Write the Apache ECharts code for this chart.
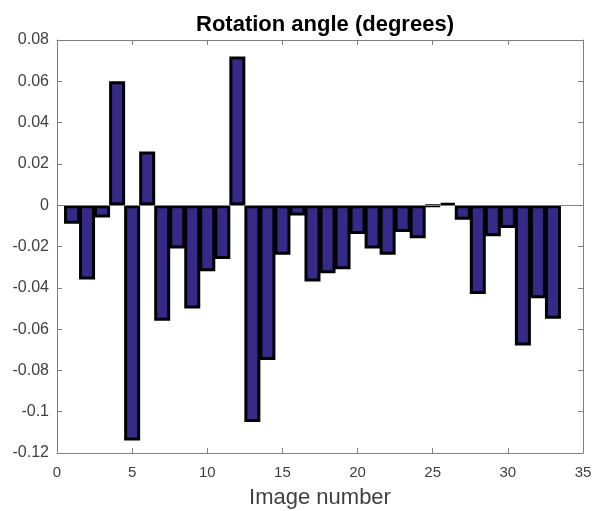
<!DOCTYPE html>
<html>
<head>
<meta charset="utf-8">
<script src="https://cdn.jsdelivr.net/npm/echarts@6/dist/echarts.min.js"></script>
<style>
html,body{margin:0;padding:0;background:#fff;}
#chart{width:592px;height:511px;}
</style>
</head>
<body>
<div id="chart"></div>
<script>
const imageNumbers = [1,2,3,4,5,6,7,8,9,10,11,12,13,14,15,16,17,18,19,20,21,22,23,24,25,26,27,28,29,30,31,32,33];
const rotationAngles = [-0.009,-0.036,-0.006,0.060,-0.114,0.026,-0.056,-0.021,-0.050,-0.032,-0.026,0.072,-0.105,-0.075,-0.024,-0.005,-0.037,-0.033,-0.031,-0.014,-0.021,-0.024,-0.013,-0.016,-0.0005,0.0008,-0.007,-0.043,-0.015,-0.011,-0.068,-0.045,-0.055];
const xTicks = [0,5,10,15,20,25,30,35];
const yTicks = [-0.12,-0.1,-0.08,-0.06,-0.04,-0.02,0,0.02,0.04,0.06,0.08];

const chart = echarts.init(document.getElementById('chart'));
const font = '"Liberation Sans", Arial, sans-serif';
const axisColor = '#808080';
const labelColor = '#404040';
const xMin = xTicks[0], xMax = xTicks[xTicks.length-1];
const yMin = yTicks[0], yMax = yTicks[yTicks.length-1];

chart.setOption({
  animation: false,
  backgroundColor: '#fff',
  title: {
    text: 'Rotation angle (degrees)',
    left: 320, textAlign: 'center', top: 9,
    textStyle: {fontFamily: font, fontSize: 22, fontWeight: 'bold', color: '#000'}
  },
  grid: {left: 57, right: 9, top: 40, bottom: 58, containLabel: false, outerBoundsMode: 'none'},
  xAxis: [{
    type: 'value', min: xMin, max: xMax, interval: 5,
    name: 'Image number', nameLocation: 'middle', nameGap: 34,
    nameTextStyle: {fontFamily: font, fontSize: 22, color: labelColor},
    axisLine: {show: true, onZero: false, lineStyle: {color: axisColor, width: 1}},
    axisTick: {show: true, inside: true, length: 5, lineStyle: {color: axisColor}},
    axisLabel: {fontFamily: font, fontSize: 15, color: labelColor, margin: 12},
    splitLine: {show: false}
  }, {
    type: 'value', position: 'top', min: xMin, max: xMax, interval: 5,
    axisLine: {show: true, onZero: false, lineStyle: {color: axisColor, width: 1}},
    axisTick: {show: true, inside: true, length: 5, lineStyle: {color: axisColor}},
    axisLabel: {show: false}, splitLine: {show: false}
  }],
  yAxis: [{
    type: 'value', min: yMin, max: yMax, interval: 0.02,
    axisLine: {show: true, onZero: false, lineStyle: {color: axisColor, width: 1}},
    axisTick: {show: true, inside: true, length: 5, lineStyle: {color: axisColor}},
    axisLabel: {fontFamily: font, fontSize: 16, color: labelColor, margin: 8,
      formatter: v => String(parseFloat(v.toFixed(2)))},
    splitLine: {show: false}
  }, {
    type: 'value', position: 'right', min: yMin, max: yMax, interval: 0.02,
    axisLine: {show: true, onZero: false, lineStyle: {color: axisColor, width: 1}},
    axisTick: {show: true, inside: true, length: 5, lineStyle: {color: axisColor}},
    axisLabel: {show: false}, splitLine: {show: false}
  }],
  series: [{
    type: 'bar',
    xAxisIndex: 0, yAxisIndex: 0,
    data: imageNumbers.map((n, i) => [n, rotationAngles[i]]),
    barWidth: 16,
    itemStyle: {color: '#352A87', borderColor: '#000', borderWidth: 3},
    markLine: {
      silent: true, symbol: 'none', label: {show: false},
      lineStyle: {color: '#808080', type: 'solid', width: 1},
      data: [{yAxis: 0}]
    },
    z: 2
  }]
});
</script>
</body>
</html>
